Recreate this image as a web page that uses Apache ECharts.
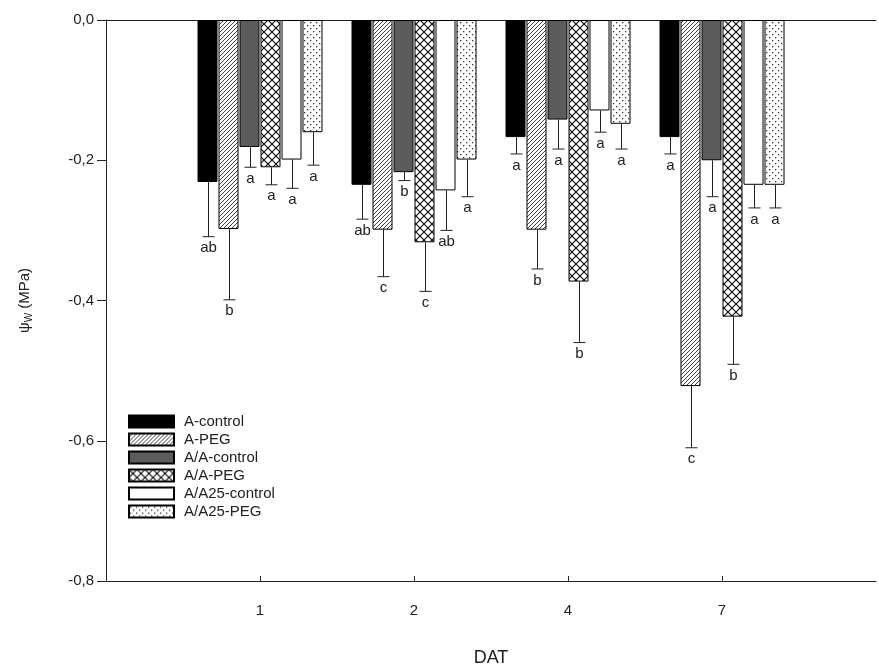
<!DOCTYPE html>
<html>
<head>
<meta charset="utf-8">
<script src="https://cdn.jsdelivr.net/npm/echarts@6/dist/echarts.min.js"></script>
<style>html,body{margin:0;padding:0;background:#fff}#c{width:879px;height:672px}</style>
</head>
<body>
<div id="c"></div>
<script>
const categories = ['1', '2', '4', '7'];
const seriesNames = ['A-control', 'A-PEG', 'A/A-control', 'A/A-PEG', 'A/A25-control', 'A/A25-PEG'];
const meanAControl   = [-0.231, -0.235, -0.167, -0.167];
const meanAPEG       = [-0.298, -0.299, -0.299, -0.522];
const meanAAControl  = [-0.181, -0.217, -0.142, -0.200];
const meanAAPEG      = [-0.210, -0.317, -0.373, -0.423];
const meanA25Control = [-0.199, -0.243, -0.129, -0.235];
const meanA25PEG     = [-0.160, -0.199, -0.148, -0.235];
const errAControl   = [0.078, 0.049, 0.024, 0.024];
const errAPEG       = [0.101, 0.067, 0.056, 0.088];
const errAAControl  = [0.029, 0.012, 0.042, 0.052];
const errAAPEG      = [0.025, 0.070, 0.087, 0.068];
const errA25Control = [0.041, 0.057, 0.031, 0.033];
const errA25PEG     = [0.047, 0.053, 0.036, 0.033];
const letAControl   = ['ab', 'ab', 'a', 'a'];
const letAPEG       = ['b', 'c', 'b', 'c'];
const letAAControl  = ['a', 'b', 'a', 'a'];
const letAAPEG      = ['a', 'c', 'b', 'b'];
const letA25Control = ['a', 'ab', 'a', 'a'];
const letA25PEG     = ['a', 'a', 'a', 'a'];
const yTicks = [-0.8, -0.6, -0.4, -0.2, 0.0];

const means = [meanAControl, meanAPEG, meanAAControl, meanAAPEG, meanA25Control, meanA25PEG];
const errs = [errAControl, errAPEG, errAAControl, errAAPEG, errA25Control, errA25PEG];
const letters = [letAControl, letAPEG, letAAControl, letAAPEG, letA25Control, letA25PEG];

function tile(size, draw) {
  const c = document.createElement('canvas');
  c.width = size; c.height = size;
  const ctx = c.getContext('2d');
  ctx.fillStyle = '#fff'; ctx.fillRect(0, 0, size, size);
  draw(ctx, size);
  return { image: c, repeat: 'repeat' };
}
const hatch = tile(4, (ctx, s) => {
  ctx.strokeStyle = '#111'; ctx.lineWidth = 0.8;
  for (const k of [-s, 0, s]) { ctx.beginPath(); ctx.moveTo(k, s); ctx.lineTo(k + s, 0); ctx.stroke(); }
});
const cross = tile(8, (ctx, s) => {
  ctx.strokeStyle = '#111'; ctx.lineWidth = 1.2;
  for (const k of [-s, 0, s]) {
    ctx.beginPath(); ctx.moveTo(k, s); ctx.lineTo(k + s, 0); ctx.stroke();
    ctx.beginPath(); ctx.moveTo(k, 0); ctx.lineTo(k + s, s); ctx.stroke();
  }
});
const dots = tile(6, (ctx, s) => {
  ctx.fillStyle = '#333';
  ctx.fillRect(1, 1, 1.3, 1.3); ctx.fillRect(4, 4, 1.3, 1.3);
});
const fills = ['#000000', hatch, '#5c5c5c', cross, '#ffffff', dots];

const axisCats = [''].concat(categories, ['']);
const BAR_W = 20, STEP = 21;
const FONT = 'Liberation Sans, Arial, sans-serif';

const series = [];
seriesNames.forEach((name, i) => {
  series.push({
    name: name, type: 'bar', barWidth: BAR_W, barGap: '5%',
    itemStyle: { color: fills[i], borderColor: '#000', borderWidth: 1 },
    data: [null].concat(means[i], [null]),
    z: 2
  });
});
seriesNames.forEach((name, i) => {
  const dx = (i - 2.5) * STEP;
  series.push({
    type: 'custom', name: name + ' err', silent: true, z: 3,
    data: categories.map((c, j) => [j + 1, means[i][j], errs[i][j]]),
    renderItem: function (params, api) {
      const j = params.dataIndex;
      const p0 = api.coord([api.value(0), api.value(1)]);
      const p1 = api.coord([api.value(0), api.value(1) - api.value(2)]);
      const x = Math.round(p0[0] + dx) + 0.5;
      const yb = p1[1];
      return {
        type: 'group', children: [
          { type: 'line', shape: { x1: x, y1: p0[1], x2: x, y2: yb }, style: { stroke: '#222', lineWidth: 1 } },
          { type: 'line', shape: { x1: x - 6, y1: yb, x2: x + 6, y2: yb }, style: { stroke: '#222', lineWidth: 1 } },
          { type: 'text', x: x, y: yb + 4, style: { text: letters[i][j], fill: '#222', font: '15px ' + FONT, textAlign: 'center', textVerticalAlign: 'top' } }
        ]
      };
    }
  });
});

const chart = echarts.init(document.getElementById('c'), null, { renderer: 'canvas' });
chart.setOption({
  animation: false,
  backgroundColor: '#fff',
  textStyle: { fontFamily: FONT },
  grid: { left: 106, top: 20, width: 783, bottom: 89, containLabel: false },
  legend: {
    data: seriesNames.map(n => ({ name: n, icon: 'rect' })), orient: 'vertical', left: 123, top: 409,
    itemWidth: 45, itemHeight: 12, itemGap: 3,
    textStyle: { fontSize: 15, color: '#222', fontFamily: FONT, padding: [0, 0, 0, 5] },
    selectedMode: false
  },
  xAxis: [{
    type: 'category', data: axisCats, boundaryGap: false, position: 'bottom',
    name: 'DAT', nameLocation: 'middle', nameGap: 68,
    nameTextStyle: { fontSize: 18, color: '#222' },
    axisLine: { onZero: false, lineStyle: { color: '#222', width: 1 } },
    axisTick: { inside: true, length: 5, lineStyle: { color: '#222' }, interval: (idx, v) => v !== '' },
    axisLabel: { fontSize: 15, color: '#222', margin: 22, interval: 0 },
    splitLine: { show: false }
  }, {
    type: 'category', data: axisCats, boundaryGap: false, position: 'top',
    axisLine: { onZero: false, lineStyle: { color: '#222', width: 1 } },
    axisTick: { show: false }, axisLabel: { show: false }, splitLine: { show: false }
  }],
  yAxis: {
    type: 'value', min: yTicks[0], max: yTicks[yTicks.length - 1], interval: 0.2,
    name: '{a|ψ}{b|W}{a| (MPa)}', nameLocation: 'middle', nameGap: 72, nameRotate: 90,
    nameTextStyle: { rich: { a: { fontSize: 15, color: '#222' }, b: { fontSize: 10, color: '#222', verticalAlign: 'bottom', padding: [8, 0, 0, 0] } } },
    axisLine: { show: true, onZero: false, lineStyle: { color: '#222', width: 1 } },
    axisTick: { show: true, length: 9, lineStyle: { color: '#222' } },
    axisLabel: { fontSize: 15, color: '#222', margin: 12, formatter: v => v.toFixed(1).replace('.', ',') },
    splitLine: { show: false }
  },
  series: series
});
</script>
</body>
</html>
